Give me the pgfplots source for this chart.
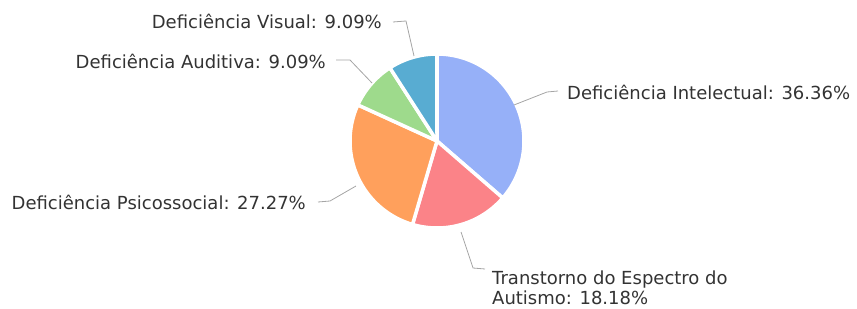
\documentclass[border=0pt]{standalone}
\usepackage{pgfplots}
\usepackage{pgfplotstable}
\pgfplotsset{compat=1.18}
\usepackage{fontspec}
\setmainfont{DejaVu Sans}
\definecolor{cInt}{RGB}{150,176,248}
\definecolor{cTEA}{RGB}{251,131,136}
\definecolor{cPsi}{RGB}{255,160,92}
\definecolor{cAud}{RGB}{158,218,140}
\definecolor{cVis}{RGB}{88,172,210}
\definecolor{lead}{RGB}{165,165,165}
\definecolor{txt}{RGB}{51,51,51}

\pgfplotstableread[col sep=comma]{
label,value
Intelectual,36.36
Transtorno,18.18
Psicossocial,27.27
Auditiva,9.09
Visual,9.09
}\piedata

\pgfplotstablegetelem{0}{value}\of\piedata \let\vA\pgfplotsretval
\pgfplotstablegetelem{1}{value}\of\piedata \let\vB\pgfplotsretval
\pgfplotstablegetelem{2}{value}\of\piedata \let\vC\pgfplotsretval
\pgfplotstablegetelem{3}{value}\of\piedata \let\vD\pgfplotsretval
\pgfplotstablegetelem{4}{value}\of\piedata \let\vE\pgfplotsretval
\pgfmathsetmacro\aA{90}
\pgfmathsetmacro\aB{\aA-3.6*\vA}
\pgfmathsetmacro\aC{\aB-3.6*\vB}
\pgfmathsetmacro\aD{\aC-3.6*\vC}
\pgfmathsetmacro\aE{\aD-3.6*\vD}
\pgfmathsetmacro\aF{\aE-3.6*\vE}
\def\cx{437}
\def\cy{167}
\def\R{87}
\tikzset{lbl/.style={font=\fontsize{18}{20}\selectfont, text=txt, inner sep=0pt}}

\begin{document}
\begin{tikzpicture}
\begin{axis}[
  scale only axis, width=857pt, height=308pt,
  xmin=0, xmax=857, ymin=0, ymax=308,
  hide axis, clip=false,
]
\pgfplotsset{slice/.style={draw=white, line width=3.5pt, line join=round, samples=60, variable=\t}}
\addplot[slice, fill=cInt, domain=\aB:\aA] ({\cx+\R*cos(t)},{\cy+\R*sin(t)}) -- (axis cs:\cx,\cy) -- cycle;
\addplot[slice, fill=cTEA, domain=\aC:\aB] ({\cx+\R*cos(t)},{\cy+\R*sin(t)}) -- (axis cs:\cx,\cy) -- cycle;
\addplot[slice, fill=cPsi, domain=\aD:\aC] ({\cx+\R*cos(t)},{\cy+\R*sin(t)}) -- (axis cs:\cx,\cy) -- cycle;
\addplot[slice, fill=cAud, domain=\aE:\aD] ({\cx+\R*cos(t)},{\cy+\R*sin(t)}) -- (axis cs:\cx,\cy) -- cycle;
\addplot[slice, fill=cVis, domain=\aF:\aE] ({\cx+\R*cos(t)},{\cy+\R*sin(t)}) -- (axis cs:\cx,\cy) -- cycle;

% leader lines
\addplot[lead, line width=0.8pt] coordinates {(393,286) (406,287) (414,252)};
\addplot[lead, line width=0.8pt] coordinates {(336,248) (350,248) (372,225)};
\addplot[lead, line width=0.8pt] coordinates {(514,203) (547,216) (558,217)};
\addplot[lead, line width=0.8pt] coordinates {(318,106) (330,107) (356,122)};
\addplot[lead, line width=0.8pt] coordinates {(461,76) (473,40) (485,39)};

\node[lbl, anchor=east] at (axis cs:382,287) {Deficiência Visual: 9.09\%};
\node[lbl, anchor=east] at (axis cs:326,247) {Deficiência Auditiva: 9.09\%};
\node[lbl, anchor=west] at (axis cs:567,216) {Deficiência Intelectual: 36.36\%};
\node[lbl, anchor=east] at (axis cs:306,106) {Deficiência Psicossocial: 27.27\%};
\node[lbl, anchor=base west, align=left] at (axis cs:492,4) {Transtorno do Espectro do\\Autismo: 18.18\%};
\end{axis}
\pgfresetboundingbox
\path (current axis.south west) rectangle (current axis.north east);
\end{tikzpicture}
\end{document}
